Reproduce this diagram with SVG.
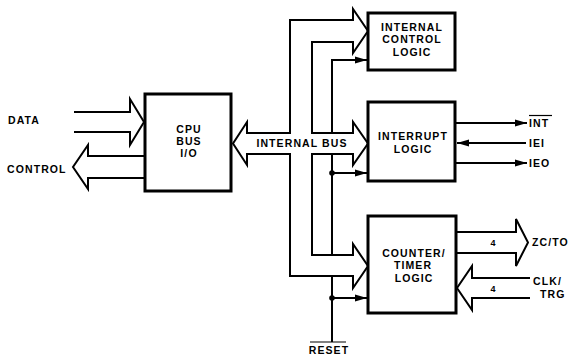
<svg xmlns="http://www.w3.org/2000/svg" width="574" height="356" viewBox="0 0 574 356">
<defs>
<style>
text{font-family:"Liberation Sans",Arial,sans-serif;font-weight:bold;font-size:10.5px;letter-spacing:1.1px;fill:#000}
.c{text-anchor:middle}
.s{font-size:9px;letter-spacing:0}
.box{fill:#fff;stroke:#000;stroke-width:3}
.ln{fill:none;stroke:#000;stroke-width:2;stroke-linejoin:miter}
.th{fill:none;stroke:#000;stroke-width:1.2}
</style>
<marker id="ah" markerWidth="12" markerHeight="8" refX="12" refY="4" orient="auto" markerUnits="userSpaceOnUse">
<path d="M0,0.5 L12,4 L0,7.5 Z" fill="#000"/>
</marker>
</defs>
<rect width="574" height="356" fill="#fff"/>

<g id="connectors">
<!-- internal bus outline -->
<path class="ln" d="M247,133 L290,133 L290,20 L353,20 L353,9 L368,31 L353,53 L353,42 L312,42 L312,133 L353,133 L353,122 L368,143.5 L353,165 L353,154 L312,154 L312,255 L353,255 L353,244 L368,266 L353,288 L353,276 L290,276 L290,154 L247,154 L247,165 L233,143.5 L247,122 Z"/>
<!-- DATA bus -->
<path class="ln" d="M74,112 L130,112 L130,99 L144,122 L130,145 L130,132 L74,132"/>
<!-- CONTROL bus -->
<path class="ln" d="M145,156 L88,156 L88,145 L73,167 L88,189 L88,178 L145,178"/>
<!-- ZC/TO bus -->
<path class="ln" d="M455,232 L516,232 L516,219 L528,242.5 L516,266 L516,253 L455,253"/>
<!-- CLK/TRG bus -->
<path class="ln" d="M530,278 L472,278 L472,266 L457,288 L472,310 L472,298 L530,298"/>
<!-- single control line -->
<path class="ln" d="M332,133 L332,60 L367,60" marker-end="url(#ah)"/>
<path class="ln" d="M332,154 L332,255"/>
<path class="ln" d="M332,173 L367,173" marker-end="url(#ah)"/>
<circle cx="332" cy="173" r="2.8" fill="#000"/>
<path class="ln" d="M332,276 L332,342"/>
<path class="ln" d="M332,298 L367,298" marker-end="url(#ah)"/>
<circle cx="332" cy="298" r="2.8" fill="#000"/>
<!-- interrupt signals -->
<path class="ln" d="M455,123 L527,123" marker-end="url(#ah)"/>
<path class="ln" d="M526,143 L457,143" marker-end="url(#ah)"/>
<path class="ln" d="M455,163 L527,163" marker-end="url(#ah)"/>
</g>

<g id="cpu-bus-io">
<rect class="box" x="145" y="94" width="86" height="97"/>
<text class="c" x="189" y="132.5">CPU</text>
<text class="c" x="189" y="144.5">BUS</text>
<text class="c" x="189" y="156.5">I/O</text>
</g>

<g id="internal-control-logic">
<rect class="box" x="368" y="13" width="87" height="57"/>
<text class="c" x="412" y="30.5">INTERNAL</text>
<text class="c" x="412" y="43">CONTROL</text>
<text class="c" x="412" y="55.5">LOGIC</text>
</g>

<g id="interrupt-logic">
<rect class="box" x="368" y="102" width="87" height="79"/>
<text class="c" x="413" y="140">INTERRUPT</text>
<text class="c" x="413" y="152.5">LOGIC</text>
</g>

<g id="counter-timer-logic">
<rect class="box" x="368" y="216" width="88" height="97"/>
<text class="c" x="414" y="256.5">COUNTER/</text>
<text class="c" x="413" y="269">TIMER</text>
<text class="c" x="414" y="281.5">LOGIC</text>
</g>

<g id="labels">
<text x="8" y="123.5">DATA</text>
<text x="7" y="172.5">CONTROL</text>
<text class="c" x="302" y="147">INTERNAL BUS</text>
<text x="529" y="126.5">INT</text>
<path class="th" d="M529,115.5 L552,115.5"/>
<text x="529" y="146.5">IEI</text>
<text x="529" y="166.5">IEO</text>
<text class="s c" x="493" y="246">4</text>
<text x="532" y="246">ZC/TO</text>
<text class="s c" x="493" y="292">4</text>
<text x="533" y="285">CLK/</text>
<text x="540" y="298">TRG</text>
<text class="c" x="329" y="354">RESET</text>
<path class="th" d="M310,342 L346,342"/>
</g>
</svg>
